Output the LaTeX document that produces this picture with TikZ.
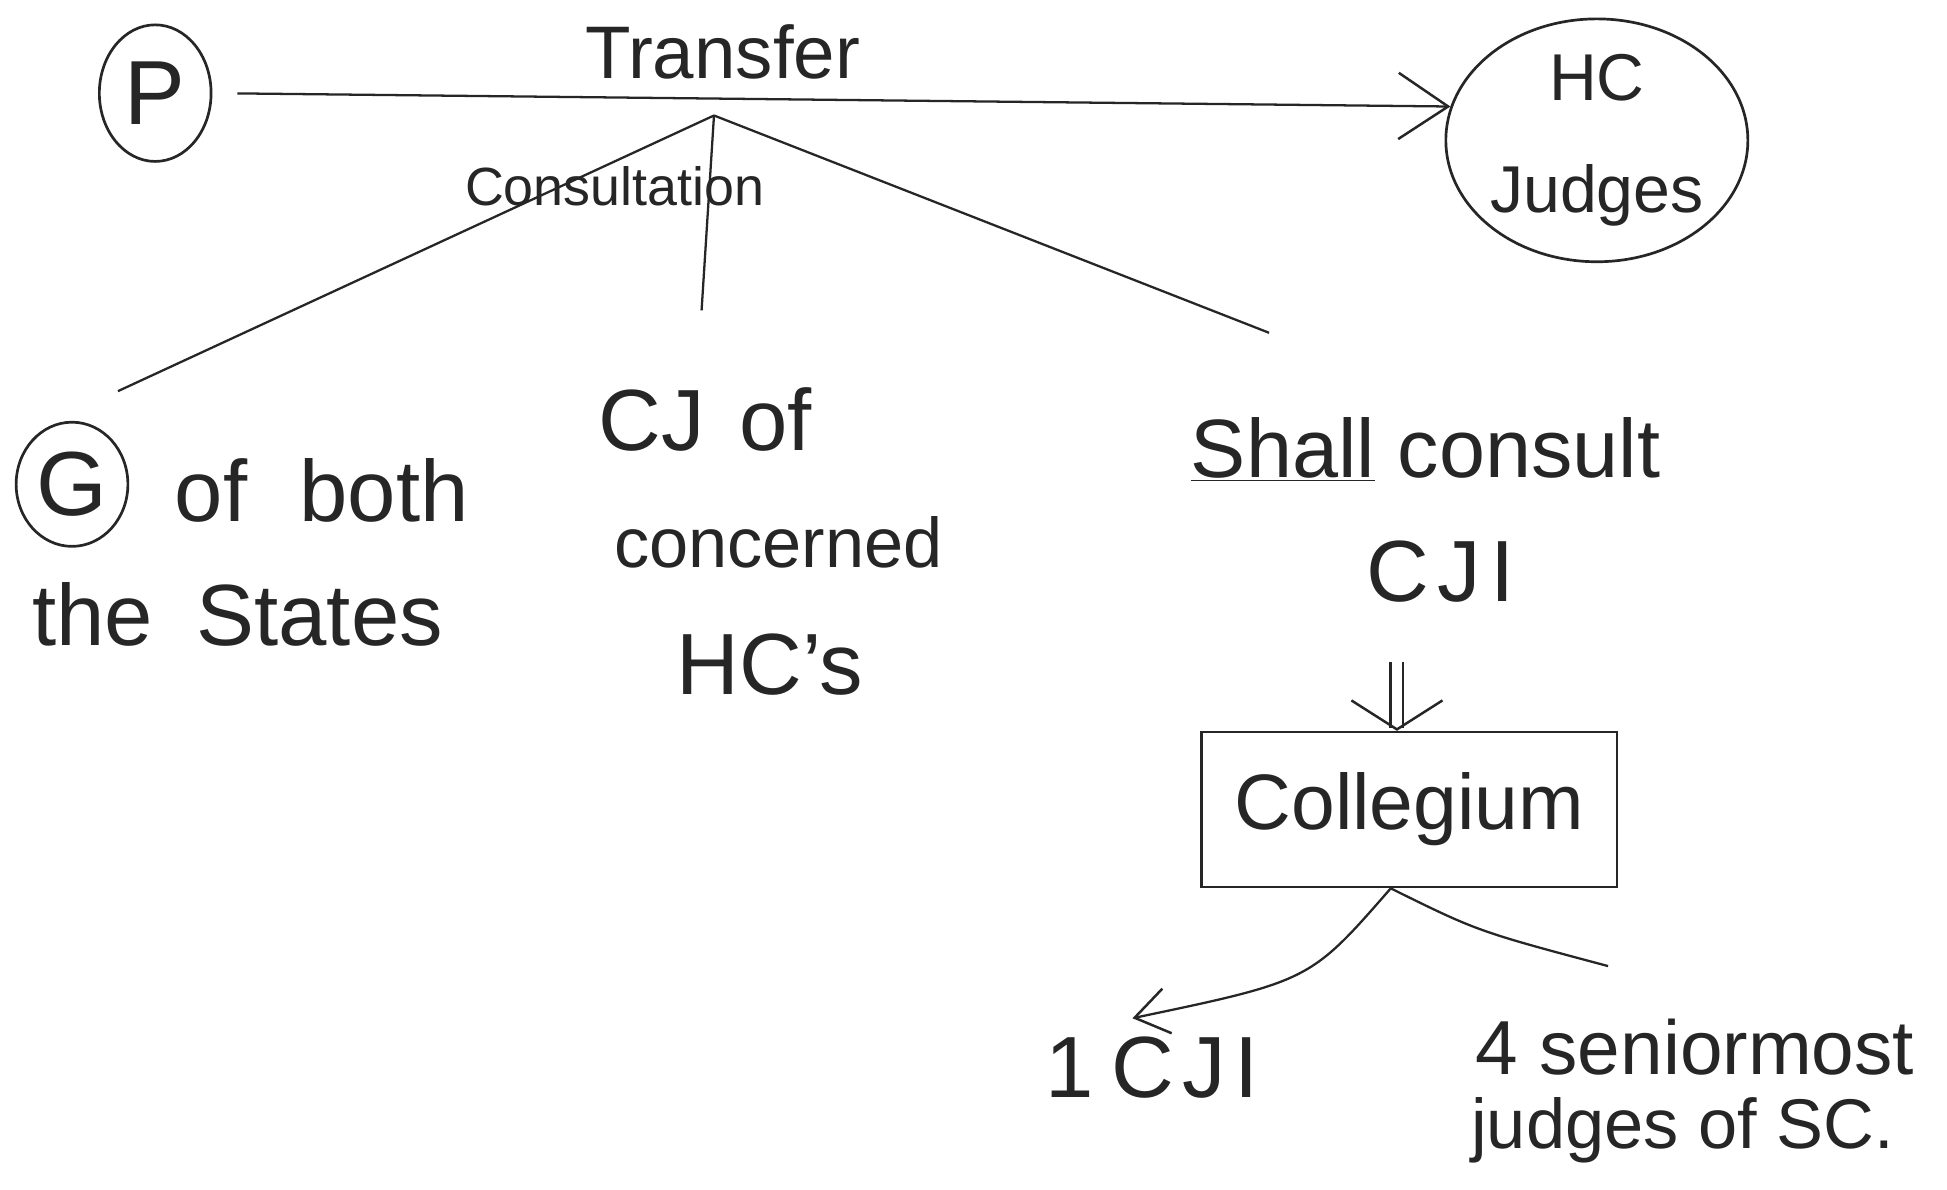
\documentclass[tikz,border=0pt]{standalone}
\usepackage{fontspec}
\setmainfont{Liberation Sans}
\usetikzlibrary{arrows.meta,shapes.geometric}
\begin{document}
\begin{tikzpicture}[x=0.6pt,y=-0.6pt,
  line width=1.1pt, draw=black!85, text=black!85,
  hw/.style={font=\fontsize{#1}{#1}\selectfont, inner sep=0pt, text=black!85},
  hw/.default=40,
  ring/.style={draw, ellipse, inner sep=0pt, line width=1.3pt},
  barb/.style={-{Straight Barb[length=24pt,width=32pt,line width=1.2pt]}},
  smallbarb/.style={-{Straight Barb[length=16pt,width=22pt,line width=1.2pt]}}]
\useasboundingbox[fill=white] (0,0) rectangle (1568,958);

% top row
\node[ring, minimum width=54pt, minimum height=66pt, hw=44] (P) at (125,75) {P};
\node[ring, minimum width=139pt, minimum height=111pt, align=center, hw=32] (HC) at (1286,113) {HC\\[22pt]Judges};
\draw[barb, shorten <=12pt] (P.east) -- (HC.167);
\node[hw=36] (tr) at (582,42) {Transfer};

% consultation branch
\coordinate (br) at (575,93);
\coordinate (e1) at (95,315);
\coordinate (e2) at (565,250);
\coordinate (e3) at (1022,268);
\draw (br) -- (e1);
\draw (br) -- (e2);
\draw (br) -- (e3);
\node[hw=26] (cons) at (495,150) {Consultation};

% left group
\node[ring, minimum width=54pt, minimum height=60pt, hw=44] (G) at (58,390) {G};
\node[hw=42, anchor=west] (ofboth) at (140,395) {of\hspace{0.6em}both};
\node[hw=42, anchor=west] (states) at (25,495) {the\hspace{0.5em}States};

% middle group
\node[hw=42] (cj) at (568,338) {CJ\hspace{0.4em}of};
\node[hw=34] (conc) at (627,437) {concerned};
\node[hw=42] (hcs) at (620,535) {HC’s};

% right group
\node[hw=40] (shall) at (1148,362) {\underline{Shall} consult};
\node[hw=42] (cji) at (1160,460) {C\hspace{0.1em}J\hspace{0.1em}I};

\node[draw, minimum width=201pt, minimum height=75pt, inner sep=0pt, hw=38] (coll) at (1135,652) {Collegium};
\coordinate (da) at (1125,533);
\draw[double, double distance=5pt, -{Straight Barb[length=14pt,width=44pt,line width=1.2pt]}] (da) -- (da |- coll.north);

\coordinate (c1) at (912,820);
\coordinate (c2) at (1295,778);
\draw[smallbarb] ([xshift=-9pt]coll.south) .. controls (1055,790) .. (c1);
\draw ([xshift=-9pt]coll.south) .. controls (1190,750) .. (c2);

\node[hw=42] (onecji) at (928,860) {1\hspace{0.2em}C\hspace{0.1em}J\hspace{0.1em}I};
\node[hw=37] (senior) at (1365,843) {4 seniormost};
\node[hw=34] (judges) at (1355,910) {judges of SC.};
\end{tikzpicture}
\end{document}
